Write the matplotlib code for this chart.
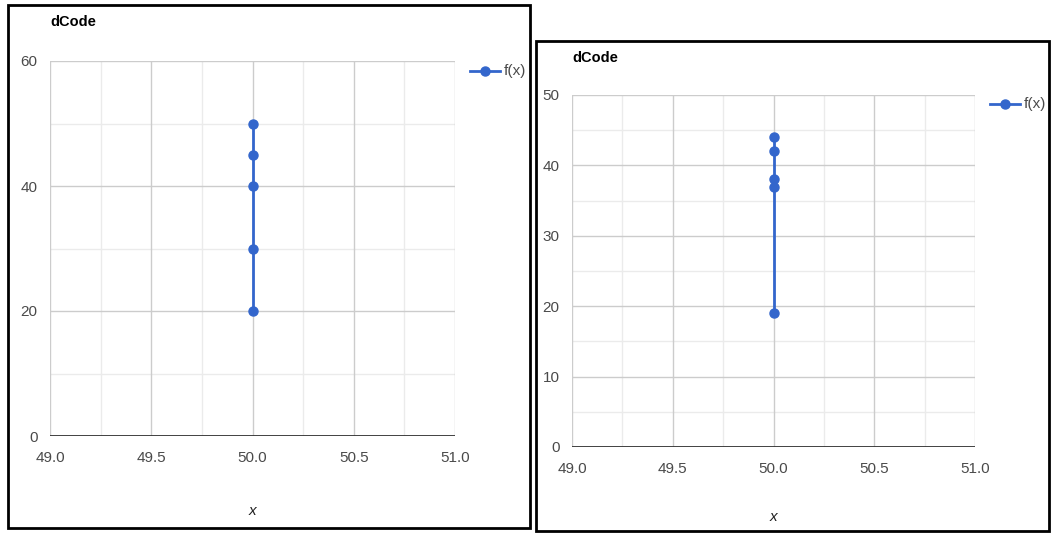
import matplotlib
matplotlib.use("Agg")
import matplotlib.pyplot as plt
from matplotlib.patches import Rectangle
from matplotlib.lines import Line2D
from matplotlib import font_manager

plt.rcParams['font.family'] = ['Liberation Sans', 'DejaVu Sans']

# Data
title = "dCode"
series_name = "f(x)"
x_label = "x"
left_x = [50, 50, 50, 50, 50]
left_y = [20, 30, 40, 45, 50]
right_x = [50, 50, 50, 50, 50]
right_y = [19, 37, 38, 42, 44]
x_ticks = [49.0, 49.5, 50.0, 50.5, 51.0]
left_yticks = [0, 20, 40, 60]
left_yminor = [10, 30, 50]
right_yticks = [0, 10, 20, 30, 40, 50]
right_yminor = [5, 15, 25, 35, 45]
x_minor = [49.25, 49.75, 50.25, 50.75]

names = {f.name for f in font_manager.fontManager.ttflist}
NARROW = ['Liberation Sans Narrow', 'Liberation Sans', 'DejaVu Sans'] if 'Liberation Sans Narrow' in names \
    else ['Liberation Sans', 'DejaVu Sans']
LBL_SIZE = 12.5 if 'Liberation Sans Narrow' in names else 11

W, H = 1051, 533
fig = plt.figure(figsize=(W / 100, H / 100), dpi=100)
fig.patch.set_facecolor('white')

BLUE = '#3366cc'
TXT = '#4a4a4a'


def px_axes(x0, y0, x1, y1):
    return fig.add_axes([x0 / W, 1 - y1 / H, (x1 - x0) / W, (y1 - y0) / H])


def draw_panel(ax, xs, ys, yticks, yminor, ymax, title_xy, leg_xy, xlabel_y):
    ax.set_xlim(49, 51)
    ax.set_ylim(0, ymax)
    for v in yminor:
        ax.axhline(v, color='#ebebeb', lw=1, zorder=0)
    for v in x_minor:
        ax.axvline(v, color='#ebebeb', lw=1, zorder=0)
    for v in yticks[1:]:
        ax.axhline(v, color='#cccccc', lw=1, zorder=0)
    for v in x_ticks:
        ax.axvline(v, color='#cccccc', lw=1, zorder=0)
    ax.axhline(0, color='#333333', lw=1.3, zorder=1)
    ax.plot(xs, ys, color=BLUE, lw=2, marker='o', ms=6.5, zorder=3, clip_on=False)
    for s in ax.spines.values():
        s.set_visible(False)
    ax.set_xticks(x_ticks)
    ax.set_xticklabels([f"{t:.1f}" for t in x_ticks])
    ax.set_yticks(yticks)
    ax.set_yticklabels([str(t) for t in yticks])
    ax.tick_params(length=0, colors=TXT, labelsize=LBL_SIZE)
    ax.tick_params(axis='x', pad=11)
    ax.tick_params(axis='y', pad=9)
    for lab in ax.get_xticklabels() + ax.get_yticklabels():
        lab.set_family(NARROW)
    ax.set_facecolor('white')
    # title
    fig.text(title_xy[0] / W, 1 - title_xy[1] / H, title, fontsize=10.5,
             fontweight='bold', color='black', ha='left', va='center')
    # x label
    fig.text((ax.get_position().x0 + ax.get_position().x1) / 2, 1 - xlabel_y / H,
             x_label, fontsize=LBL_SIZE, style='italic', color='#222222',
             ha='center', va='center', family=NARROW)
    # legend
    lx, ly = leg_xy
    ln = Line2D([lx / W, (lx + 30) / W], [1 - ly / H, 1 - ly / H], color=BLUE, lw=2,
                transform=fig.transFigure)
    fig.add_artist(ln)
    mk = Line2D([(lx + 15) / W], [1 - ly / H], color=BLUE, marker='o', ms=6.5,
                transform=fig.transFigure)
    fig.add_artist(mk)
    fig.text((lx + 34) / W, 1 - ly / H, series_name, fontsize=LBL_SIZE, color=TXT,
             ha='left', va='center', family=NARROW)


ax1 = px_axes(50, 61, 455, 436)
draw_panel(ax1, left_x, left_y, left_yticks, left_yminor, 60,
           (50, 22), (470, 71), 511)

ax2 = px_axes(572, 95, 975, 447)
draw_panel(ax2, right_x, right_y, right_yticks, right_yminor, 50,
           (572, 58), (990, 104), 517)

# panel borders
fig.add_artist(Rectangle((8 / W, 1 - 528 / H), (530 - 8) / W, (528 - 5) / H,
                         transform=fig.transFigure, fill=False, ec='black', lw=2))
fig.add_artist(Rectangle((536 / W, 1 - 531 / H), (1049 - 536) / W, (531 - 41) / H,
                         transform=fig.transFigure, fill=False, ec='black', lw=2))

fig.savefig('out.png', dpi=100, facecolor='white')
